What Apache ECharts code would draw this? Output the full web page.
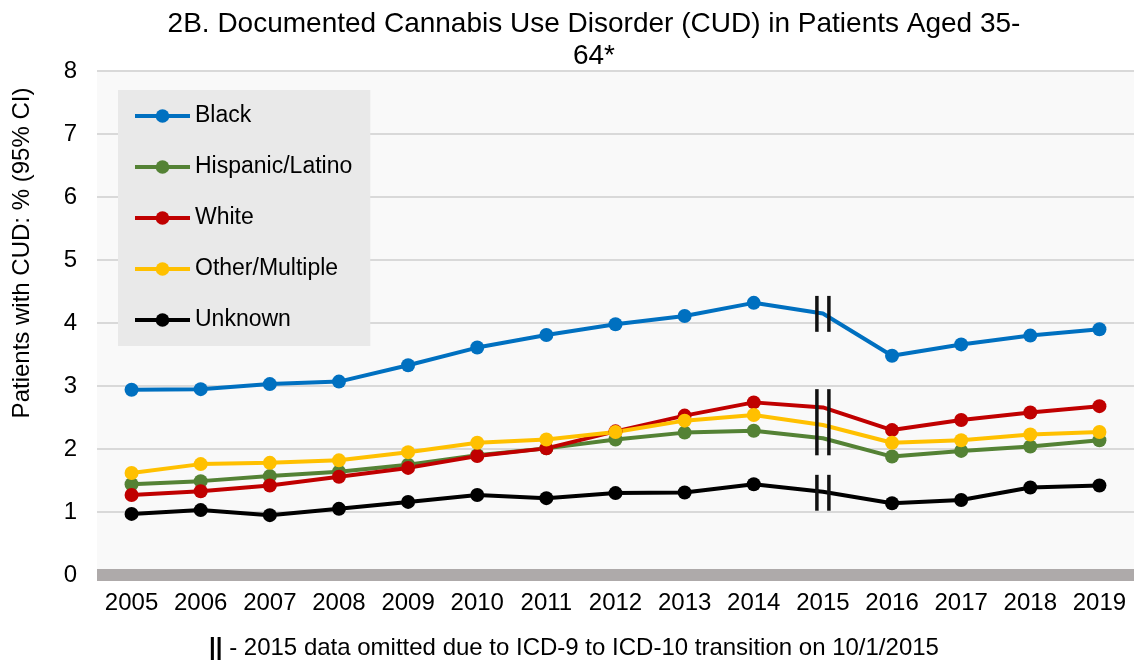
<!DOCTYPE html>
<html>
<head>
<meta charset="utf-8">
<script src="https://cdn.jsdelivr.net/npm/echarts@6/dist/echarts.min.js"></script>
<style>
html, body { margin: 0; padding: 0; background: #fff; }
#chart { width: 1134px; height: 662px; }
</style>
</head>
<body>
<div id="chart"></div>
<script>
var FONT = '"Liberation Sans", Arial, sans-serif';

var years = ['2005', '2006', '2007', '2008', '2009', '2010', '2011', '2012', '2013', '2014', '2015', '2016', '2017', '2018', '2019'];
var omittedYear = '2015';

var black    = [2.94, 2.95, 3.03, 3.07, 3.33, 3.61, 3.81, 3.98, 4.11, 4.32, 4.15, 3.48, 3.66, 3.80, 3.90];
var hispanic = [1.44, 1.49, 1.57, 1.64, 1.75, 1.90, 2.01, 2.15, 2.26, 2.29, 2.17, 1.88, 1.97, 2.04, 2.14];
var white    = [1.27, 1.33, 1.42, 1.56, 1.70, 1.89, 2.01, 2.28, 2.53, 2.74, 2.66, 2.30, 2.46, 2.58, 2.68];
var other    = [1.62, 1.76, 1.78, 1.82, 1.95, 2.10, 2.15, 2.27, 2.45, 2.54, 2.38, 2.10, 2.14, 2.23, 2.27];
var unknown  = [0.97, 1.03, 0.95, 1.05, 1.16, 1.27, 1.22, 1.30, 1.31, 1.44, 1.32, 1.14, 1.19, 1.39, 1.42];

// "||" break marks at 2015: [year, low, high]
var breakRanges = [['2015', 3.86, 4.43], ['2015', 1.90, 2.95], ['2015', 1.02, 1.59]];

var groups = [
    {name: 'Black', data: black, color: '#0070c0'},
    {name: 'Hispanic/Latino', data: hispanic, color: '#548235'},
    {name: 'White', data: white, color: '#c00000'},
    {name: 'Other/Multiple', data: other, color: '#ffc000'},
    {name: 'Unknown', data: unknown, color: '#000000'}
];

var myChart = echarts.init(document.getElementById('chart'));

var series = groups.map(function(g){
    return {
        name: g.name,
        type: 'line',
        symbol: 'circle',
        symbolSize: 14,
        color: g.color,
        lineStyle: {width: 4, color: g.color},
        itemStyle: {color: g.color},
        data: g.data.map(function(v, i){
            // 2015 value drawn as line only, no marker
            return years[i] === omittedYear ? {value: v, symbol: 'none'} : v;
        })
    };
});

series.push({
    type: 'custom',
    name: 'breaks',
    z: 10,
    data: breakRanges,
    encode: {x: 0, y: [1, 2]},
    renderItem: function(params, api){
        var lo = api.coord([api.value(0), api.value(1)]);
        var hi = api.coord([api.value(0), api.value(2)]);
        var st = {stroke: '#111', lineWidth: 3.5};
        return {
            type: 'group',
            children: [
                {type: 'line', shape: {x1: lo[0] - 6, y1: lo[1], x2: lo[0] - 6, y2: hi[1]}, style: st},
                {type: 'line', shape: {x1: lo[0] + 6, y1: lo[1], x2: lo[0] + 6, y2: hi[1]}, style: st}
            ]
        };
    }
});

myChart.setOption({
    animation: false,
    backgroundColor: '#ffffff',
    textStyle: {fontFamily: FONT},
    title: [{
        text: '2B. Documented Cannabis Use Disorder (CUD) in Patients Aged 35-\n64*',
        left: 594,
        top: 8,
        padding: 0,
        textAlign: 'center',
        textStyle: {fontFamily: FONT, fontSize: 28, fontWeight: 'normal', color: '#000', lineHeight: 32}
    }, {
        text: '{b|||} - 2015 data omitted due to ICD-9 to ICD-10 transition on 10/1/2015',
        left: 574,
        top: 636,
        padding: 0,
        textAlign: 'center',
        textStyle: {
            fontFamily: FONT, fontSize: 24, fontWeight: 'normal', color: '#000',
            rich: {b: {fontFamily: FONT, fontSize: 24, fontWeight: 'bold', color: '#000'}}
        }
    }],
    legend: {
        data: groups.map(function(g){ return g.name; }),
        orient: 'vertical',
        left: 118,
        top: 90,
        padding: [14, 18, 14, 15],
        itemGap: 27,
        itemWidth: 55,
        itemHeight: 17,
        backgroundColor: '#e9e9e9',
        lineStyle: {width: 4},
        textStyle: {fontFamily: FONT, fontSize: 23, color: '#000', lineHeight: 24}
    },
    grid: {
        left: 97,
        top: 71,
        width: 1046,
        height: 504,
        show: true,
        backgroundColor: '#f9f9f9',
        borderWidth: 0,
        containLabel: false
    },
    xAxis: {
        type: 'category',
        data: years,
        boundaryGap: true,
        axisTick: {show: false},
        axisLine: {show: true, lineStyle: {color: '#aeaaaa', width: 12, cap: 'butt'}},
        axisLabel: {fontFamily: FONT, fontSize: 24, color: '#000', margin: 16, interval: 0, hideOverlap: false}
    },
    yAxis: {
        type: 'value',
        min: 0,
        max: 8,
        interval: 1,
        axisLine: {show: false},
        axisTick: {show: false},
        axisLabel: {fontFamily: FONT, fontSize: 24, color: '#000', margin: 20},
        splitLine: {lineStyle: {color: '#d9d9d9', width: 2}}
    },
    graphic: [{
        type: 'text',
        x: 22,
        y: 253,
        rotation: Math.PI / 2,
        style: {
            text: 'Patients with CUD: % (95% CI)',
            fontFamily: FONT,
            fontSize: 24,
            fill: '#000',
            textAlign: 'center',
            textVerticalAlign: 'middle'
        }
    }],
    series: series
});

window.onresize = function(){
    myChart.resize();
};
</script>
</body>
</html>
